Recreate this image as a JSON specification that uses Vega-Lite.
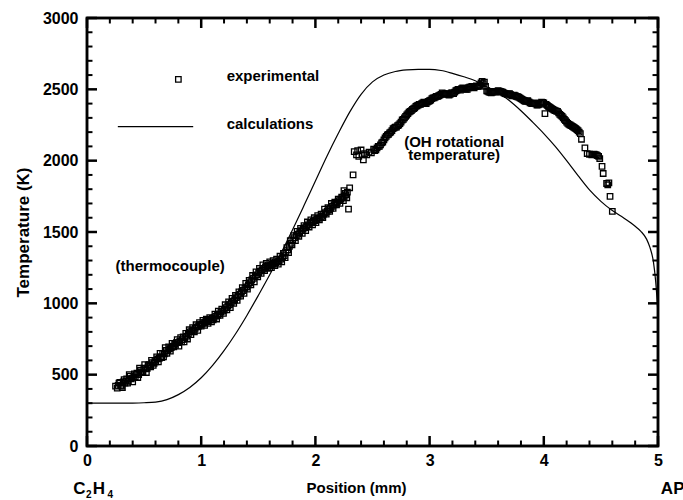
{
  "$schema": "https://vega.github.io/schema/vega-lite/v6.json",
  "width": 571,
  "height": 428,
  "autosize": {"type": "none"},
  "padding": {"left": 87, "top": 18, "right": 25, "bottom": 54},
  "background": "white",
  "config": {"view": {"stroke": "#000000", "strokeWidth": 2.5}, "font": "Liberation Sans"},
  "datasets": {
    "calc": [
      {"x":0,"y":300},{"x":0.2,"y":300},{"x":0.4,"y":301},{"x":0.5,"y":303},{"x":0.6,"y":308},{"x":0.7,"y":325},{"x":0.8,"y":360},{"x":0.9,"y":410},{"x":1.0,"y":478},{"x":1.1,"y":565},{"x":1.2,"y":668},{"x":1.3,"y":785},{"x":1.4,"y":915},{"x":1.5,"y":1055},{"x":1.6,"y":1200},{"x":1.7,"y":1352},{"x":1.8,"y":1515},{"x":1.9,"y":1685},{"x":2.0,"y":1858},{"x":2.1,"y":2030},{"x":2.2,"y":2190},{"x":2.3,"y":2340},{"x":2.4,"y":2465},{"x":2.5,"y":2552},{"x":2.6,"y":2600},{"x":2.7,"y":2625},{"x":2.8,"y":2636},{"x":2.9,"y":2640},{"x":3.0,"y":2640},{"x":3.1,"y":2632},{"x":3.2,"y":2612},{"x":3.3,"y":2588},{"x":3.4,"y":2560},{"x":3.5,"y":2518},{"x":3.6,"y":2478},{"x":3.7,"y":2420},{"x":3.8,"y":2350},{"x":3.9,"y":2272},{"x":4.0,"y":2190},{"x":4.1,"y":2100},{"x":4.2,"y":2000},{"x":4.3,"y":1895},{"x":4.4,"y":1795},{"x":4.5,"y":1715},{"x":4.6,"y":1650},{"x":4.7,"y":1598},{"x":4.8,"y":1540},{"x":4.85,"y":1505},{"x":4.9,"y":1450},{"x":4.93,"y":1390},{"x":4.96,"y":1290},{"x":4.98,"y":1150},{"x":5.0,"y":930}
    ],
    "exp": [
      {"x":0.25,"y":420},{"x":0.265,"y":405},{"x":0.28,"y":440},{"x":0.295,"y":425},{"x":0.31,"y":410},{"x":0.325,"y":465},{"x":0.34,"y":455},{"x":0.355,"y":440},{"x":0.37,"y":500},{"x":0.385,"y":470},{"x":0.40,"y":450},{"x":0.415,"y":505},{"x":0.43,"y":500},{"x":0.445,"y":480},{"x":0.46,"y":545},{"x":0.475,"y":520},{"x":0.49,"y":515},{"x":0.505,"y":570},{"x":0.52,"y":515},{"x":0.535,"y":565},{"x":0.55,"y":560},{"x":0.565,"y":600},{"x":0.58,"y":565},{"x":0.595,"y":600},{"x":0.61,"y":625},{"x":0.625,"y":590},{"x":0.64,"y":650},{"x":0.655,"y":620},{"x":0.67,"y":625},{"x":0.685,"y":690},{"x":0.70,"y":650},{"x":0.715,"y":695},{"x":0.73,"y":665},{"x":0.745,"y":720},{"x":0.76,"y":695},{"x":0.775,"y":705},{"x":0.79,"y":745},{"x":0.805,"y":700},{"x":0.82,"y":760},{"x":0.835,"y":745},{"x":0.85,"y":730},{"x":0.865,"y":790},{"x":0.88,"y":750},{"x":0.895,"y":815},{"x":0.91,"y":780},{"x":0.925,"y":830},{"x":0.94,"y":800},{"x":0.955,"y":850},{"x":0.97,"y":810},{"x":0.985,"y":865},{"x":1.00,"y":840},{"x":1.015,"y":880},{"x":1.03,"y":845},{"x":1.045,"y":890},{"x":1.06,"y":860},{"x":1.075,"y":900},{"x":1.09,"y":870},{"x":1.105,"y":885},{"x":1.12,"y":925},{"x":1.135,"y":890},{"x":1.15,"y":945},{"x":1.165,"y":915},{"x":1.18,"y":960},{"x":1.195,"y":930},{"x":1.21,"y":990},{"x":1.225,"y":955},{"x":1.24,"y":1010},{"x":1.255,"y":970},{"x":1.27,"y":1035},{"x":1.285,"y":1000},{"x":1.30,"y":1055},{"x":1.315,"y":1020},{"x":1.33,"y":1080},{"x":1.345,"y":1050},{"x":1.36,"y":1110},{"x":1.375,"y":1070},{"x":1.39,"y":1140},{"x":1.405,"y":1100},{"x":1.42,"y":1160},{"x":1.435,"y":1130},{"x":1.45,"y":1195},{"x":1.465,"y":1150},{"x":1.48,"y":1220},{"x":1.495,"y":1185},{"x":1.51,"y":1245},{"x":1.525,"y":1210},{"x":1.54,"y":1270},{"x":1.555,"y":1230},{"x":1.57,"y":1280},{"x":1.585,"y":1245},{"x":1.60,"y":1290},{"x":1.615,"y":1250},{"x":1.63,"y":1300},{"x":1.645,"y":1265},{"x":1.66,"y":1310},{"x":1.675,"y":1275},{"x":1.69,"y":1330},{"x":1.705,"y":1290},{"x":1.72,"y":1350},{"x":1.735,"y":1320},{"x":1.75,"y":1390},{"x":1.765,"y":1355},{"x":1.78,"y":1440},{"x":1.795,"y":1410},{"x":1.81,"y":1475},{"x":1.825,"y":1440},{"x":1.84,"y":1505},{"x":1.855,"y":1470},{"x":1.87,"y":1525},{"x":1.885,"y":1490},{"x":1.90,"y":1545},{"x":1.915,"y":1510},{"x":1.93,"y":1570},{"x":1.945,"y":1535},{"x":1.96,"y":1585},{"x":1.975,"y":1550},{"x":1.99,"y":1600},{"x":2.005,"y":1565},{"x":2.02,"y":1615},{"x":2.035,"y":1585},{"x":2.05,"y":1625},{"x":2.065,"y":1600},{"x":2.08,"y":1660},{"x":2.095,"y":1625},{"x":2.11,"y":1670},{"x":2.125,"y":1645},{"x":2.14,"y":1700},{"x":2.155,"y":1665},{"x":2.17,"y":1710},{"x":2.185,"y":1690},{"x":2.20,"y":1730},{"x":2.215,"y":1700},{"x":2.23,"y":1745},{"x":2.245,"y":1720},{"x":2.26,"y":1770},{"x":2.275,"y":1740},{"x":2.25,"y":1790},{"x":2.28,"y":1780},{"x":2.29,"y":1660},{"x":2.30,"y":1810},{"x":2.33,"y":1900},
      {"x":0.2725,"y":425},{"x":0.2875,"y":445},{"x":0.3025,"y":420},{"x":0.3175,"y":450},{"x":0.3325,"y":440},{"x":0.3475,"y":470},{"x":0.3625,"y":455},{"x":0.3775,"y":490},{"x":0.3925,"y":475},{"x":0.4075,"y":480},{"x":0.4225,"y":485},{"x":0.4375,"y":510},{"x":0.4525,"y":500},{"x":0.4675,"y":530},{"x":0.4825,"y":515},{"x":0.4975,"y":545},{"x":0.5125,"y":540},{"x":0.5275,"y":545},{"x":0.5425,"y":570},{"x":0.5575,"y":555},{"x":0.5725,"y":585},{"x":0.5875,"y":580},{"x":0.6025,"y":590},{"x":0.6175,"y":610},{"x":0.6325,"y":615},{"x":0.6475,"y":625},{"x":0.6625,"y":650},{"x":0.6775,"y":645},{"x":0.6925,"y":670},{"x":0.7075,"y":670},{"x":0.7225,"y":680},{"x":0.7375,"y":690},{"x":0.7525,"y":700},{"x":0.7675,"y":715},{"x":0.7825,"y":725},{"x":0.7975,"y":725},{"x":0.8125,"y":735},{"x":0.8275,"y":730},{"x":0.8425,"y":765},{"x":0.8575,"y":760},{"x":0.8725,"y":770},{"x":0.8875,"y":785},{"x":0.9025,"y":800},{"x":0.9175,"y":805},{"x":0.9325,"y":810},{"x":0.9475,"y":825},{"x":0.9625,"y":835},{"x":0.9775,"y":840},{"x":0.9925,"y":850},{"x":1.0075,"y":855},{"x":1.0225,"y":865},{"x":1.0375,"y":870},{"x":1.0525,"y":875},{"x":1.0675,"y":880},{"x":1.0825,"y":885},{"x":1.0975,"y":895},{"x":1.1125,"y":900},{"x":1.1275,"y":910},{"x":1.1425,"y":915},{"x":1.1575,"y":925},{"x":1.1725,"y":940},{"x":1.1875,"y":945},{"x":1.2025,"y":955},{"x":1.2175,"y":970},{"x":1.2325,"y":980},{"x":1.2475,"y":990},{"x":1.2625,"y":1005},{"x":1.2775,"y":1015},{"x":1.2925,"y":1025},{"x":1.3075,"y":1040},{"x":1.3225,"y":1050},{"x":1.3375,"y":1065},{"x":1.3525,"y":1080},{"x":1.3675,"y":1090},{"x":1.3825,"y":1105},{"x":1.3975,"y":1115},{"x":1.4125,"y":1130},{"x":1.4275,"y":1145},{"x":1.4425,"y":1165},{"x":1.4575,"y":1175},{"x":1.4725,"y":1190},{"x":1.4875,"y":1200},{"x":1.5025,"y":1215},{"x":1.5175,"y":1225},{"x":1.5325,"y":1235},{"x":1.5475,"y":1245},{"x":1.5625,"y":1255},{"x":1.5775,"y":1260},{"x":1.5925,"y":1265},{"x":1.6075,"y":1270},{"x":1.6225,"y":1275},{"x":1.6375,"y":1280},{"x":1.6525,"y":1285},{"x":1.6675,"y":1290},{"x":1.6825,"y":1300},{"x":1.6975,"y":1310},{"x":1.7125,"y":1320},{"x":1.7275,"y":1335},{"x":1.7425,"y":1355},{"x":1.7575,"y":1375},{"x":1.7725,"y":1400},{"x":1.7875,"y":1420},{"x":1.8025,"y":1445},{"x":1.8175,"y":1460},{"x":1.8325,"y":1475},{"x":1.8475,"y":1485},{"x":1.8625,"y":1495},{"x":1.8775,"y":1510},{"x":1.8925,"y":1520},{"x":1.9075,"y":1530},{"x":1.9225,"y":1540},{"x":1.9375,"y":1550},{"x":1.9525,"y":1560},{"x":1.9675,"y":1565},{"x":1.9825,"y":1575},{"x":1.9975,"y":1580},{"x":2.0125,"y":1590},{"x":2.0275,"y":1595},{"x":2.0425,"y":1600},{"x":2.0575,"y":1610},{"x":2.0725,"y":1625},{"x":2.0875,"y":1635},{"x":2.1025,"y":1645},{"x":2.1175,"y":1655},{"x":2.1325,"y":1665},{"x":2.1475,"y":1680},{"x":2.1625,"y":1690},{"x":2.1775,"y":1700},{"x":2.1925,"y":1710},{"x":2.2075,"y":1720},{"x":2.2225,"y":1730},{"x":2.2375,"y":1740},{"x":2.2525,"y":1750},{"x":2.2675,"y":1760},
      {"x":2.34,"y":2063},{"x":2.36,"y":2040},{"x":2.37,"y":2070},{"x":2.38,"y":2030},{"x":2.40,"y":2075},{"x":2.41,"y":2040},{"x":2.42,"y":2005},{"x":2.43,"y":2050},{"x":2.45,"y":2040},{"x":2.47,"y":2060},{"x":2.49,"y":2055},{"x":2.51,"y":2080},{"x":2.53,"y":2075},{"x":2.55,"y":2100},{"x":2.57,"y":2110},{"x":2.59,"y":2130},{"x":2.61,"y":2160},{"x":2.63,"y":2180},{"x":2.65,"y":2195},{"x":2.67,"y":2210},{"x":2.69,"y":2230},{"x":2.71,"y":2235},{"x":2.73,"y":2250},{"x":2.75,"y":2270},{"x":2.77,"y":2290},{"x":2.79,"y":2310},{"x":2.81,"y":2330},{"x":2.83,"y":2345},{"x":2.85,"y":2360},{"x":2.87,"y":2370},{"x":2.89,"y":2385},{"x":2.91,"y":2395},{"x":2.93,"y":2400},{"x":2.95,"y":2410},{"x":2.97,"y":2400},{"x":2.99,"y":2415},{"x":3.01,"y":2425},{"x":3.03,"y":2440},{"x":3.05,"y":2445},{"x":3.07,"y":2450},{"x":3.09,"y":2460},{"x":3.11,"y":2475},{"x":3.13,"y":2465},{"x":3.15,"y":2470},{"x":3.17,"y":2460},{"x":3.19,"y":2475},{"x":3.21,"y":2470},{"x":3.23,"y":2490},{"x":3.25,"y":2500},{"x":3.27,"y":2495},{"x":3.29,"y":2510},{"x":3.31,"y":2505},{"x":3.33,"y":2500},{"x":3.35,"y":2515},{"x":3.37,"y":2520},{"x":3.39,"y":2510},{"x":3.41,"y":2525},{"x":3.43,"y":2520},{"x":3.45,"y":2545},{"x":3.46,"y":2555},{"x":3.47,"y":2540},{"x":3.48,"y":2550},{"x":3.49,"y":2520},{"x":3.50,"y":2490},{"x":3.52,"y":2480},{"x":3.54,"y":2475},{"x":3.56,"y":2485},{"x":3.58,"y":2480},{"x":3.60,"y":2490},{"x":3.62,"y":2485},{"x":3.64,"y":2480},{"x":3.66,"y":2470},{"x":3.68,"y":2465},{"x":3.70,"y":2470},{"x":3.72,"y":2455},{"x":3.74,"y":2460},{"x":3.76,"y":2450},{"x":3.78,"y":2445},{"x":3.80,"y":2435},{"x":3.82,"y":2425},{"x":3.84,"y":2415},{"x":3.86,"y":2420},{"x":3.88,"y":2405},{"x":3.90,"y":2400},{"x":3.92,"y":2405},{"x":3.94,"y":2390},{"x":3.96,"y":2395},{"x":3.98,"y":2410},{"x":4.00,"y":2405},{"x":4.01,"y":2330},{"x":4.02,"y":2395},{"x":4.04,"y":2380},{"x":4.06,"y":2370},{"x":4.08,"y":2360},{"x":4.10,"y":2350},{"x":4.12,"y":2345},{"x":4.14,"y":2325},{"x":4.16,"y":2310},{"x":4.18,"y":2290},{"x":4.20,"y":2270},{"x":4.22,"y":2255},{"x":4.24,"y":2245},{"x":4.26,"y":2235},{"x":4.28,"y":2225},{"x":4.30,"y":2210},{"x":4.32,"y":2190},{"x":4.33,"y":2150},{"x":4.36,"y":2090},{"x":4.38,"y":2050},{"x":4.40,"y":2045},{"x":4.42,"y":2040},{"x":4.44,"y":2045},{"x":4.46,"y":2040},{"x":4.48,"y":2030},{"x":4.49,"y":2015},{"x":4.51,"y":1960},{"x":4.52,"y":1910},{"x":4.55,"y":1840},{"x":4.56,"y":1830},{"x":4.57,"y":1845},{"x":4.58,"y":1750},{"x":4.60,"y":1645},
      {"x":2.52,"y":2070},{"x":2.54,"y":2090},{"x":2.56,"y":2100},{"x":2.58,"y":2125},{"x":2.60,"y":2145},{"x":2.62,"y":2170},{"x":2.64,"y":2185},{"x":2.66,"y":2200},{"x":2.68,"y":2225},{"x":2.70,"y":2235},{"x":2.72,"y":2245},{"x":2.74,"y":2260},{"x":2.76,"y":2285},{"x":2.78,"y":2300},{"x":2.80,"y":2320},{"x":2.82,"y":2340},{"x":2.84,"y":2350},{"x":2.86,"y":2365},{"x":2.88,"y":2380},{"x":2.90,"y":2390},{"x":2.92,"y":2395},{"x":2.94,"y":2405},{"x":2.96,"y":2405},{"x":2.98,"y":2410},{"x":3.00,"y":2420},{"x":3.02,"y":2435},{"x":3.04,"y":2440},{"x":3.06,"y":2450},{"x":3.08,"y":2455},{"x":3.10,"y":2465},{"x":3.12,"y":2470},{"x":3.14,"y":2470},{"x":3.16,"y":2465},{"x":3.18,"y":2465},{"x":3.20,"y":2475},{"x":3.22,"y":2480},{"x":3.24,"y":2495},{"x":3.26,"y":2500},{"x":3.28,"y":2505},{"x":3.30,"y":2505},{"x":3.32,"y":2500},{"x":3.34,"y":2510},{"x":3.36,"y":2515},{"x":3.38,"y":2515},{"x":3.40,"y":2520},{"x":3.42,"y":2520},{"x":3.44,"y":2530},{"x":3.51,"y":2485},{"x":3.53,"y":2478},{"x":3.55,"y":2480},{"x":3.57,"y":2482},{"x":3.59,"y":2485},{"x":3.61,"y":2488},{"x":3.63,"y":2482},{"x":3.65,"y":2475},{"x":3.67,"y":2468},{"x":3.69,"y":2468},{"x":3.71,"y":2462},{"x":3.73,"y":2458},{"x":3.75,"y":2455},{"x":3.77,"y":2448},{"x":3.79,"y":2440},{"x":3.81,"y":2430},{"x":3.83,"y":2420},{"x":3.85,"y":2418},{"x":3.87,"y":2412},{"x":3.89,"y":2402},{"x":3.91,"y":2402},{"x":3.93,"y":2398},{"x":3.95,"y":2392},{"x":3.97,"y":2402},{"x":3.99,"y":2408},{"x":4.03,"y":2388},{"x":4.05,"y":2375},{"x":4.07,"y":2365},{"x":4.09,"y":2355},{"x":4.11,"y":2348},{"x":4.13,"y":2335},{"x":4.15,"y":2318},{"x":4.17,"y":2300},{"x":4.19,"y":2280},{"x":4.21,"y":2262},{"x":4.23,"y":2250},{"x":4.25,"y":2240},{"x":4.27,"y":2230},{"x":4.29,"y":2218},{"x":4.31,"y":2200},{"x":4.43,"y":2042},{"x":4.45,"y":2042},{"x":4.47,"y":2035}
    ],
    "leftNotes": [
      {"x":1.223,"y":2590,"t":"experimental"},
      {"x":1.223,"y":2255,"t":"calculations"},
      {"x":0.25,"y":1262,"t":"(thermocouple)"}
    ],
    "centerNotes": [
      {"x":3.215,"y":2133,"t":"(OH rotational"},
      {"x":3.215,"y":2040,"t":"temperature)"}
    ],
    "legendLine": [{"x":0.27,"x2":0.93,"y":2238}],
    "legendPoint": [{"x":0.8,"y":2570}],
    "bigLabels": [
      {"x":-0.12,"y":-336,"t":"C"},
      {"x":0.05,"y":-336,"t":"H"},
      {"x":5.025,"y":-336,"t":"AP"}
    ],
    "subLabels": [
      {"x":-0.008,"y":-362,"t":"2"},
      {"x":0.18,"y":-362,"t":"4"}
    ],
    "frame": [{"x":0,"y":0,"i":0},{"x":5,"y":0,"i":1},{"x":5,"y":3000,"i":2},{"x":0,"y":3000,"i":3},{"x":0,"y":0,"i":4}],
    "xMajor": [{"x":0},{"x":1},{"x":2},{"x":3},{"x":4},{"x":5}],
    "xMinor": [{"x":0.2},{"x":0.4},{"x":0.6},{"x":0.8},{"x":1.2},{"x":1.4},{"x":1.6},{"x":1.8},{"x":2.2},{"x":2.4},{"x":2.6},{"x":2.8},{"x":3.2},{"x":3.4},{"x":3.6},{"x":3.8},{"x":4.2},{"x":4.4},{"x":4.6},{"x":4.8}],
    "yMajor": [{"y":0},{"y":500},{"y":1000},{"y":1500},{"y":2000},{"y":2500},{"y":3000}],
    "yMinor": [{"y":100},{"y":200},{"y":300},{"y":400},{"y":600},{"y":700},{"y":800},{"y":900},{"y":1100},{"y":1200},{"y":1300},{"y":1400},{"y":1600},{"y":1700},{"y":1800},{"y":1900},{"y":2100},{"y":2200},{"y":2300},{"y":2400},{"y":2600},{"y":2700},{"y":2800},{"y":2900}]
  },
  "layer": [
    {
      "data": {"name": "calc"},
      "mark": {"type": "line", "color": "#000000", "strokeWidth": 1.2, "interpolate": "monotone"},
      "encoding": {
        "x": {"field": "x", "type": "quantitative", "scale": {"domain": [0, 5], "nice": false, "zero": false},
          "axis": {"orient": "bottom", "values": [0,1,2,3,4,5], "format": "d", "grid": false, "domain": false, "ticks": false, "labelFont": "Liberation Sans", "labelColor": "#000000", "labelFlush": false, "labelOverlap": false, "labelFontSize": 16, "labelFontWeight": "bold", "labelPadding": 6, "title": "Position (mm)", "titleFont": "Liberation Sans", "titleColor": "#000000", "titleFontSize": 15, "titleFontWeight": "bold", "titlePadding": 12, "titleX": 269}},
        "y": {"field": "y", "type": "quantitative", "scale": {"domain": [0, 3000], "nice": false, "zero": false},
          "axis": {"orient": "left", "values": [0,500,1000,1500,2000,2500,3000], "format": "d", "grid": false, "domain": false, "ticks": false, "labelFont": "Liberation Sans", "labelColor": "#000000", "labelFlush": false, "labelOverlap": false, "labelFontSize": 16, "labelFontWeight": "bold", "labelPadding": 9, "title": "Temperature (K)", "titleFont": "Liberation Sans", "titleColor": "#000000", "titleFontSize": 17, "titleFontWeight": "bold", "titlePadding": 10}}
      }
    },
    {
      "data": {"name": "exp"},
      "mark": {"type": "point", "shape": "square", "filled": false, "stroke": "#000000", "strokeWidth": 1.3, "size": 30, "opacity": 1},
      "encoding": {"x": {"field": "x", "type": "quantitative"}, "y": {"field": "y", "type": "quantitative"}}
    },
    {
      "data": {"name": "frame"},
      "mark": {"type": "line", "color": "#000000", "strokeWidth": 2.5, "strokeJoin": "miter", "strokeCap": "square"},
      "encoding": {"x": {"field": "x", "type": "quantitative"}, "y": {"field": "y", "type": "quantitative"}, "order": {"field": "i", "type": "quantitative"}}
    },
    {
      "data": {"name": "xMajor"},
      "mark": {"type": "point", "shape": "M0,0L0,-2", "filled": false, "stroke": "#000000", "strokeWidth": 2.5, "size": 100, "opacity": 1},
      "encoding": {"x": {"field": "x", "type": "quantitative"}, "y": {"datum": 0, "type": "quantitative"}}
    },
    {
      "data": {"name": "xMajor"},
      "mark": {"type": "point", "shape": "M0,0L0,2", "filled": false, "stroke": "#000000", "strokeWidth": 2.5, "size": 100, "opacity": 1},
      "encoding": {"x": {"field": "x", "type": "quantitative"}, "y": {"datum": 3000, "type": "quantitative"}}
    },
    {
      "data": {"name": "xMinor"},
      "mark": {"type": "point", "shape": "M0,0L0,-2", "filled": false, "stroke": "#000000", "strokeWidth": 2, "size": 30, "opacity": 1},
      "encoding": {"x": {"field": "x", "type": "quantitative"}, "y": {"datum": 0, "type": "quantitative"}}
    },
    {
      "data": {"name": "xMinor"},
      "mark": {"type": "point", "shape": "M0,0L0,2", "filled": false, "stroke": "#000000", "strokeWidth": 2, "size": 30, "opacity": 1},
      "encoding": {"x": {"field": "x", "type": "quantitative"}, "y": {"datum": 3000, "type": "quantitative"}}
    },
    {
      "data": {"name": "yMajor"},
      "mark": {"type": "point", "shape": "M0,0L2,0", "filled": false, "stroke": "#000000", "strokeWidth": 2.5, "size": 100, "opacity": 1},
      "encoding": {"y": {"field": "y", "type": "quantitative"}, "x": {"datum": 0, "type": "quantitative"}}
    },
    {
      "data": {"name": "yMajor"},
      "mark": {"type": "point", "shape": "M0,0L-2,0", "filled": false, "stroke": "#000000", "strokeWidth": 2.5, "size": 100, "opacity": 1},
      "encoding": {"y": {"field": "y", "type": "quantitative"}, "x": {"datum": 5, "type": "quantitative"}}
    },
    {
      "data": {"name": "yMinor"},
      "mark": {"type": "point", "shape": "M0,0L2,0", "filled": false, "stroke": "#000000", "strokeWidth": 2, "size": 30, "opacity": 1},
      "encoding": {"y": {"field": "y", "type": "quantitative"}, "x": {"datum": 0, "type": "quantitative"}}
    },
    {
      "data": {"name": "yMinor"},
      "mark": {"type": "point", "shape": "M0,0L-2,0", "filled": false, "stroke": "#000000", "strokeWidth": 2, "size": 30, "opacity": 1},
      "encoding": {"y": {"field": "y", "type": "quantitative"}, "x": {"datum": 5, "type": "quantitative"}}
    },
    {
      "data": {"name": "leftNotes"},
      "mark": {"type": "text", "align": "left", "baseline": "middle", "fontSize": 15, "fontWeight": "bold", "color": "#000000", "font": "Liberation Sans"},
      "encoding": {"x": {"field": "x", "type": "quantitative"}, "y": {"field": "y", "type": "quantitative"}, "text": {"field": "t"}}
    },
    {
      "data": {"name": "centerNotes"},
      "mark": {"type": "text", "align": "center", "baseline": "middle", "fontSize": 15, "fontWeight": "bold", "color": "#000000", "font": "Liberation Sans"},
      "encoding": {"x": {"field": "x", "type": "quantitative"}, "y": {"field": "y", "type": "quantitative"}, "text": {"field": "t"}}
    },
    {
      "data": {"name": "legendLine"},
      "mark": {"type": "rule", "color": "#000000", "strokeWidth": 1.2},
      "encoding": {"x": {"field": "x", "type": "quantitative"}, "x2": {"field": "x2"}, "y": {"field": "y", "type": "quantitative"}}
    },
    {
      "data": {"name": "legendPoint"},
      "mark": {"type": "point", "shape": "square", "filled": false, "stroke": "#000000", "strokeWidth": 1.3, "size": 30, "opacity": 1},
      "encoding": {"x": {"field": "x", "type": "quantitative"}, "y": {"field": "y", "type": "quantitative"}}
    },
    {
      "data": {"name": "bigLabels"},
      "mark": {"type": "text", "align": "left", "baseline": "alphabetic", "fontSize": 17, "fontWeight": "bold", "color": "#000000", "font": "Liberation Sans"},
      "encoding": {"x": {"field": "x", "type": "quantitative"}, "y": {"field": "y", "type": "quantitative"}, "text": {"field": "t"}}
    },
    {
      "data": {"name": "subLabels"},
      "mark": {"type": "text", "align": "left", "baseline": "alphabetic", "fontSize": 10, "fontWeight": "bold", "color": "#000000", "font": "Liberation Sans"},
      "encoding": {"x": {"field": "x", "type": "quantitative"}, "y": {"field": "y", "type": "quantitative"}, "text": {"field": "t"}}
    }
  ]
}
